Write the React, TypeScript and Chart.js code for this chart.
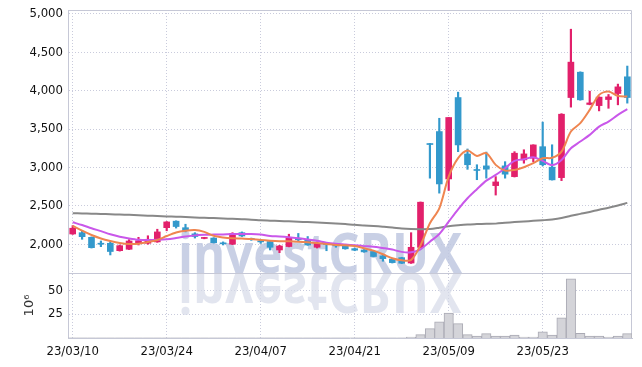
import React, { useEffect, useRef } from 'react';
import { Chart, registerables } from 'chart.js';
Chart.register(...registerables);

const dates = [
  '23/03/10', '23/03/13', '23/03/14', '23/03/15', '23/03/16', '23/03/17', '23/03/20', '23/03/21', '23/03/22', '23/03/23',
  '23/03/24', '23/03/27', '23/03/28', '23/03/29', '23/03/30', '23/03/31', '23/04/03', '23/04/04', '23/04/05', '23/04/06',
  '23/04/07', '23/04/10', '23/04/11', '23/04/12', '23/04/13', '23/04/14', '23/04/17', '23/04/18', '23/04/19', '23/04/20',
  '23/04/21', '23/04/24', '23/04/25', '23/04/26', '23/04/27', '23/04/28', '23/05/02', '23/05/03', '23/05/04', '23/05/08',
  '23/05/09', '23/05/10', '23/05/11', '23/05/12', '23/05/15', '23/05/16', '23/05/17', '23/05/18', '23/05/19', '23/05/22',
  '23/05/23', '23/05/24', '23/05/25', '23/05/26', '23/05/30', '23/05/31', '23/06/01', '23/06/02', '23/06/05', '23/06/07',
];

const openP = [
  2133, 2150, 2090, 2010, 2012, 1916, 1934, 2020, 2012, 2030,
  2215, 2300, 2215, 2135, 2075, 2080, 2015, 2000, 2150, 2072,
  2040, 2035, 1925, 1970, 2078, 2055, 1960, 2000, 1985, 1990,
  1942, 1925, 1905, 1848, 1805, 1825, 1755, 1960, 3310, 3467,
  2850, 3910, 3175, 2970, 3020, 2763, 3020, 2880, 3098, 3120,
  3270, 3003, 2867, 3910, 4240, 3820, 3805, 3884, 3962, 4180,
];
const highP = [
  2242, 2176, 2095, 2042, 2035, 1990, 2060, 2090, 2110, 2195,
  2295, 2305, 2260, 2150, 2090, 2085, 2030, 2150, 2160, 2080,
  2055, 2040, 1985, 2130, 2140, 2100, 2030, 2005, 1995, 1995,
  1950, 1930, 1910, 1865, 1810, 1830, 2150, 2550, 3312, 3640,
  3650, 3980, 3240, 3035, 3200, 2880, 3075, 3205, 3230, 3295,
  3590, 3295, 3700, 4800, 4245, 3993, 3920, 3950, 4085, 4320,
];
const lowP = [
  2128, 2064, 1950, 1968, 1860, 1910, 1930, 1990, 2000, 2025,
  2175, 2210, 2160, 2080, 2070, 2015, 1990, 1995, 2100, 2050,
  2010, 1925, 1890, 1965, 2045, 1985, 1950, 1915, 1960, 1935,
  1915, 1895, 1835, 1778, 1755, 1748, 1750, 1955, 2860, 2665,
  2700, 3205, 2975, 2840, 2860, 2640, 2860, 2875, 3055, 3075,
  3020, 2835, 2828, 3785, 3875, 3815, 3736, 3770, 3815, 3837,
];
const closeP = [
  2208, 2098, 1955, 2000, 1905, 1981, 2042, 2045, 2064, 2160,
  2290, 2230, 2175, 2100, 2082, 2020, 2005, 2140, 2107, 2062,
  2030, 1960, 1977, 2077, 2058, 1990, 2012, 1995, 1978, 1940,
  1922, 1900, 1840, 1812, 1760, 1752, 1960, 2547, 3298, 2785,
  3650, 3293, 3035, 2960, 2977, 2811, 2912, 3185, 3176, 3293,
  3035, 2838, 3693, 4371, 3880, 3840, 3915, 3919, 4049, 3910,
];

const maShort = [
  2238, 2176, 2120, 2075, 2042, 2016, 2003, 2007, 2030, 2055,
  2107, 2153, 2176, 2185, 2160, 2110, 2088, 2077, 2073, 2068,
  2055, 2046, 2040, 2038, 2033, 2025, 2015, 2003, 1990, 1985,
  1977, 1947, 1916, 1869, 1817, 1790, 1795, 1985, 2273, 2468,
  2880, 3120, 3219, 3150, 3185, 3033, 2958, 2967, 3003, 3055,
  3120, 3125, 3206, 3467, 3576, 3749, 3945, 3988, 3932, 3923,
];
const maMid = [
  2286, 2250, 2208, 2170, 2130, 2098, 2075, 2058, 2055, 2058,
  2065, 2081, 2100, 2115, 2122, 2125, 2128, 2133, 2133, 2133,
  2125, 2107, 2100, 2090, 2077, 2062, 2045, 2020, 2005, 1995,
  1985, 1975, 1968, 1950, 1930, 1900, 1895, 1934, 2033, 2133,
  2294, 2455, 2598, 2716, 2828, 2902, 2990, 3085, 3107, 3133,
  3085, 3030, 3098, 3250, 3337, 3424, 3532, 3597, 3684, 3758,
];
const maLong = [
  2403, 2400, 2397, 2394, 2390, 2386, 2382, 2377, 2372, 2367,
  2362, 2358, 2354, 2348, 2344, 2340, 2335, 2330, 2325, 2320,
  2312, 2307, 2302, 2298, 2293, 2288, 2283, 2277, 2270, 2262,
  2252, 2245, 2237, 2228, 2218, 2205, 2198, 2196, 2198, 2215,
  2235, 2248, 2258, 2262, 2265, 2268, 2278, 2288, 2296, 2304,
  2312, 2322, 2340, 2370, 2395, 2420, 2450, 2475, 2505, 2538,
];
const volume = [
  0.1, 0.1, 0.1, 0.1, 0.1, 0.1, 0.1, 0.1, 0.1, 0.1,
  0.1, 0.1, 0.1, 0.1, 0.1, 0.1, 0.1, 0.1, 0.1, 0.1,
  0.1, 0.1, 0.1, 0.1, 0.1, 0.1, 0.1, 0.1, 0.1, 0.1,
  0.1, 0.1, 0.1, 0.1, 0.1, 0.1, 1, 3.5, 9.8, 17,
  26, 15, 3.5, 2, 4.5, 2, 2, 3, 1, 1,
  6.5, 3, 21, 62, 5, 2, 2, 1, 2, 4.5,
];

const priceTicks = [2000, 2500, 3000, 3500, 4000, 4500, 5000];
const volumeTicks = [25, 50];

const UP = '#e2206b';
const DOWN = '#3399cc';
const GRID = '#c9cbdc';
const FRAME = '#c6c8d6';
const TICK_FONT = { family: '"DejaVu Sans Condensed", sans-serif', size: 13 };
const TICK_COLOR = '#111111';

const noPad = (s: any) => {
  s.paddingTop = 0;
  s.paddingBottom = 0;
  s.paddingLeft = 0;
  s.paddingRight = 0;
};

const watermark = {
  id: 'watermark',
  beforeDatasetsDraw(chart: any) {
    const { ctx } = chart;
    const base = chart.scales.y.bottom;
    const cx = 312;
    ctx.save();
    ctx.font = 'bold 56px "Open Sans", "DejaVu Sans", sans-serif';
    ctx.textAlign = 'center';
    ctx.textBaseline = 'alphabetic';
    ctx.fillStyle = 'rgba(192, 200, 224, 0.85)';
    ctx.fillText('investCRUX', cx, base, 284);
    ctx.translate(0, 2 * base);
    ctx.scale(1, -1);
    ctx.fillStyle = 'rgba(214, 218, 232, 0.7)';
    ctx.fillText('investCRUX', cx, base, 284);
    ctx.restore();
    const a = chart.chartArea;
    ctx.save();
    ctx.strokeStyle = FRAME;
    ctx.lineWidth = 1;
    ctx.beginPath();
    ctx.moveTo(a.left, a.top + 0.5);
    ctx.lineTo(a.right - 0.5, a.top + 0.5);
    ctx.lineTo(a.right - 0.5, a.bottom);
    ctx.moveTo(a.left, Math.round(base) + 0.5);
    ctx.lineTo(a.right, Math.round(base) + 0.5);
    ctx.stroke();
    ctx.restore();
  },
};

export default function App() {
  const ref = useRef<HTMLCanvasElement>(null);
  useEffect(() => {
    const up = closeP.map((c, i) => c >= openP[i]);
    const colors = up.map((u) => (u ? UP : DOWN));
    const chart = new Chart(ref.current as HTMLCanvasElement, {
      type: 'bar',
      data: {
        labels: dates,
        datasets: [
          { type: 'line', data: maShort, yAxisID: 'y', borderColor: '#ef8550', borderWidth: 2, pointRadius: 0, tension: 0.3, order: 0 } as any,
          { type: 'line', data: maMid, yAxisID: 'y', borderColor: '#c957ea', borderWidth: 2, pointRadius: 0, tension: 0.3, order: 0 } as any,
          { type: 'line', data: maLong, yAxisID: 'y', borderColor: '#888888', borderWidth: 2, pointRadius: 0, tension: 0.3, order: 0 } as any,
          { type: 'bar', data: openP.map((o, i) => [o, closeP[i]]), yAxisID: 'y', backgroundColor: colors, barThickness: 6, minBarLength: 1, grouped: false, order: 1 } as any,
          { type: 'bar', data: lowP.map((l, i) => [l, highP[i]]), yAxisID: 'y', backgroundColor: colors, barThickness: 1.5, minBarLength: 1, grouped: false, order: 2 } as any,
          { type: 'bar', data: volume, yAxisID: 'yv', backgroundColor: '#d4d4d9', borderColor: '#aaaab4', borderWidth: 1, barPercentage: 1, categoryPercentage: 1, grouped: false, order: 3 } as any,
        ],
      },
      options: {
        responsive: false,
        animation: false,
        devicePixelRatio: 1,
        layout: { padding: { top: 2, right: 2, bottom: 0, left: 0 } },
        plugins: { legend: { display: false }, tooltip: { enabled: false } },
        scales: {
          x: {
            type: 'category',
            offset: true,
            grid: { offset: false, color: GRID, drawTicks: false },
            border: { color: FRAME, dash: [1, 2] },
            ticks: { font: TICK_FONT, color: TICK_COLOR, padding: 6, maxRotation: 0, autoSkip: false },
            afterBuildTicks: (s: any) => { s.ticks = s.ticks.filter((t: any) => t.value % 10 === 0); },
            afterFit: (s: any) => { s.height = 22; noPad(s); },
          },
          yv: {
            type: 'linear',
            position: 'left',
            stack: 'panes',
            stackWeight: 65,
            weight: 1,
            min: 0,
            max: 68,
            grid: { color: GRID, drawTicks: false },
            border: { color: FRAME, dash: [1, 2] },
            ticks: { font: TICK_FONT, color: TICK_COLOR, padding: 5, stepSize: 25 },
            afterBuildTicks: (s: any) => { s.ticks = volumeTicks.map((v) => ({ value: v })); },
            title: { display: true, text: '10⁶', font: { family: '"DejaVu Sans", sans-serif', size: 13 }, color: '#333', padding: { top: 14, bottom: 0 } },
            afterFit: (s: any) => { s.width = 60; noPad(s); },
          },
          y: {
            type: 'linear',
            position: 'left',
            stack: 'panes',
            stackWeight: 263,
            weight: 2,
            min: 1625,
            max: 5050,
            grid: { color: GRID, drawTicks: false },
            border: { color: FRAME, dash: [1, 2] },
            ticks: { font: TICK_FONT, color: TICK_COLOR, padding: 5, stepSize: 500, callback: (v: any) => Number(v).toLocaleString('en-US') },
            afterBuildTicks: (s: any) => { s.ticks = priceTicks.map((v) => ({ value: v })); },
            afterFit: (s: any) => { s.width = 60; noPad(s); },
          },
        } as any,
      },
      plugins: [watermark],
    });
    return () => chart.destroy();
  }, []);
  return <canvas ref={ref} width={626} height={352} style={{ display: 'block' }} />;
}
